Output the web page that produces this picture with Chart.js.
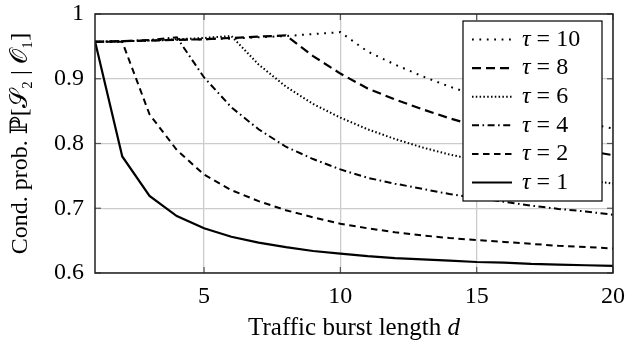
<!DOCTYPE html>
<html>
<head>
<meta charset="utf-8">
<script src="https://cdn.jsdelivr.net/npm/chart.js@4.4.1/dist/chart.umd.min.js"></script>
<style>
  html, body { margin: 0; padding: 0; background: #fff; }
  canvas { display: block; }
</style>
</head>
<body>
<canvas id="chart" width="626" height="343"></canvas>
<script>
/* conditional probability vs. traffic burst length, one curve per tau */
const burstLen = [1, 2, 3, 4, 5, 6, 7, 8, 9, 10, 11, 12, 13, 14, 15, 16, 17, 18, 19, 20];

const tau1  = [0.958, 0.780, 0.719, 0.688, 0.669, 0.656, 0.647, 0.640, 0.634, 0.630,
               0.626, 0.623, 0.621, 0.619, 0.617, 0.616, 0.614, 0.613, 0.612, 0.611];
const tau2  = [0.957, 0.957, 0.845, 0.790, 0.752, 0.728, 0.711, 0.697, 0.686, 0.676,
               0.669, 0.663, 0.658, 0.654, 0.651, 0.648, 0.645, 0.642, 0.640, 0.638];
const tau4  = [0.957, 0.958, 0.960, 0.964, 0.902, 0.856, 0.822, 0.795, 0.776, 0.760,
               0.747, 0.738, 0.730, 0.722, 0.716, 0.710, 0.704, 0.699, 0.695, 0.690];
const tau6  = [0.957, 0.958, 0.959, 0.961, 0.963, 0.966, 0.922, 0.888, 0.861, 0.840,
               0.822, 0.807, 0.794, 0.783, 0.774, 0.765, 0.757, 0.750, 0.744, 0.738];
const tau8  = [0.957, 0.958, 0.959, 0.960, 0.961, 0.963, 0.965, 0.967, 0.935, 0.908,
               0.885, 0.868, 0.853, 0.839, 0.827, 0.816, 0.806, 0.797, 0.789, 0.782];
const tau10 = [0.957, 0.958, 0.959, 0.960, 0.961, 0.962, 0.964, 0.966, 0.969, 0.972,
               0.942, 0.922, 0.904, 0.888, 0.874, 0.862, 0.851, 0.841, 0.832, 0.823];

const xTicks = [5, 10, 15, 20];
const yTicks = [0.6, 0.7, 0.8, 0.9, 1];
const yTickLabels = ["0.6", "0.7", "0.8", "0.9", "1"];
const xTitle = ["Traffic burst length ", "d"];

const SERIF = '"Liberation Serif", "DejaVu Serif", serif';

const toPoints = (vals) => burstLen.map((d, i) => ({ x: d, y: vals[i] }));

// order = legend order (top to bottom)
const series = [
  { tau: 10, data: tau10, dash: [1.8, 5.6], width: 2 },
  { tau: 8,  data: tau8,  dash: [9, 5],     width: 2.2 },
  { tau: 6,  data: tau6,  dash: [1.5, 2.3], width: 2 },
  { tau: 4,  data: tau4,  dash: [7, 3.5, 1.6, 3.5], width: 2 },
  { tau: 2,  data: tau2,  dash: [6.5, 4.5], width: 2 },
  { tau: 1,  data: tau1,  dash: [],         width: 2.2 },
];

const line = (ctx, x1, y1, x2, y2) => {
  ctx.beginPath();
  ctx.moveTo(x1, y1);
  ctx.lineTo(x2, y2);
  ctx.stroke();
};

// frame, inward ticks, x title and the boxed legend in the upper right
const frameAndLegend = {
  id: "frameAndLegend",
  afterDatasetsDraw(chart) {
    const { ctx, chartArea: a, scales } = chart;
    ctx.save();
    ctx.strokeStyle = "#555";
    ctx.lineWidth = 1.2;
    for (const v of xTicks) {
      const px = scales.x.getPixelForValue(v);
      line(ctx, px, a.bottom, px, a.bottom - 6);
      line(ctx, px, a.top, px, a.top + 6);
    }
    for (const v of yTicks) {
      const py = scales.y.getPixelForValue(v);
      line(ctx, a.left, py, a.left + 6, py);
      line(ctx, a.right, py, a.right - 6, py);
    }
    ctx.strokeStyle = "#222";
    ctx.lineWidth = 1.5;
    ctx.strokeRect(a.left, a.top, a.right - a.left, a.bottom - a.top);

    // x axis title with italic d
    ctx.fillStyle = "#000";
    ctx.textBaseline = "middle";
    ctx.textAlign = "left";
    ctx.font = "25px " + SERIF;
    const w1 = ctx.measureText(xTitle[0]).width;
    ctx.font = "italic 25px " + SERIF;
    const w2 = ctx.measureText(xTitle[1]).width;
    const tx = (a.left + a.right) / 2 - (w1 + w2) / 2;
    ctx.font = "25px " + SERIF;
    ctx.fillText(xTitle[0], tx, 328);
    ctx.font = "italic 25px " + SERIF;
    ctx.fillText(xTitle[1], tx + w1, 328);

    const bw = 139, bh = 180;
    const bx = a.right - 11 - bw, by = a.top + 7;
    ctx.fillStyle = "#fff";
    ctx.fillRect(bx, by, bw, bh);
    ctx.strokeStyle = "#000";
    ctx.lineWidth = 1.2;
    ctx.strokeRect(bx, by, bw, bh);

    chart.data.datasets.forEach((ds, i) => {
      const y = by + 18.5 + i * 28.6;
      ctx.strokeStyle = ds.borderColor;
      ctx.lineWidth = ds.borderWidth;
      ctx.setLineDash(ds.borderDash);
      line(ctx, bx + 9, y, bx + 49, y);
      ctx.setLineDash([]);
      ctx.fillStyle = "#000";
      ctx.font = "italic 24px " + SERIF;
      ctx.fillText("τ", bx + 59, y);
      const w = ctx.measureText("τ").width;
      ctx.font = "24px " + SERIF;
      ctx.fillText(" = " + series[i].tau, bx + 59 + w, y);
    });
    ctx.restore();
  },
};

new Chart(document.getElementById("chart"), {
  type: "line",
  data: {
    datasets: series.map((s) => ({
      label: "τ = " + s.tau,
      data: toPoints(s.data),
      borderColor: "#000",
      borderWidth: s.width,
      borderDash: s.dash,
      pointRadius: 0,
      tension: 0,
      fill: false,
    })),
  },
  plugins: [frameAndLegend],
  options: {
    responsive: false,
    animation: false,
    devicePixelRatio: 1,
    layout: { padding: { top: 14, right: 13, left: 0, bottom: 0 } },
    plugins: { legend: { display: false }, tooltip: { enabled: false } },
    scales: {
      x: {
        type: "linear",
        min: 1,
        max: 20,
        afterBuildTicks: (scale) => { scale.ticks = xTicks.map((v) => ({ value: v })); },
        afterFit: (scale) => {
          scale.height = 70;
          scale.paddingLeft = 0;
          scale.paddingRight = 0;
        },
        grid: { color: "#cccccc", lineWidth: 1.3, drawTicks: false },
        border: { display: false },
        ticks: { color: "#000", font: { family: SERIF, size: 24 }, padding: 9, maxRotation: 0 },
      },
      y: {
        min: 0.6,
        max: 1,
        afterBuildTicks: (scale) => { scale.ticks = yTicks.map((v) => ({ value: v })); },
        afterFit: (scale) => {
          scale.width = 95;
          scale.paddingTop = 0;
          scale.paddingBottom = 0;
        },
        grid: { color: "#cccccc", lineWidth: 1.3, drawTicks: false },
        border: { display: false },
        ticks: {
          color: "#000",
          font: { family: SERIF, size: 24 },
          padding: 11,
          callback: (v) => yTickLabels[yTicks.findIndex((t) => Math.abs(t - v) < 1e-6)],
        },
        title: {
          display: true,
          text: "Cond. prob. ℙ[𝒮₂ | 𝒪₁]",
          color: "#000",
          font: { family: SERIF, size: 24 },
          padding: { top: 6, bottom: 0 },
        },
      },
    },
  },
});
</script>
</body>
</html>
